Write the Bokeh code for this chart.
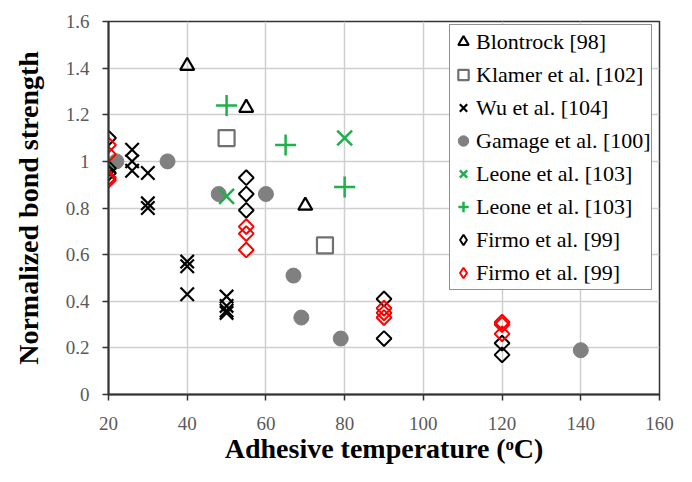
import numpy as np
from bokeh.plotting import figure
from bokeh.models import FixedTicker, Legend, LegendItem
from bokeh.embed import file_html
from bokeh.resources import INLINE

# ---- data ----
blontrock_x = [40, 55, 70]
blontrock_y = [1.41, 1.23, 0.81]

klamer_x = [50, 75]
klamer_y = [1.10, 0.64]

wu_x = [20, 20, 26, 26, 26, 30, 30, 30, 40, 40, 40, 50, 50, 50, 50]
wu_y = [0.98, 0.95, 1.05, 1.00, 0.96, 0.95, 0.82, 0.80, 0.57, 0.55, 0.43, 0.42, 0.38, 0.36, 0.35]

gamage_x = [22, 35, 48, 60, 67, 69, 79, 140]
gamage_y = [1.00, 1.00, 0.86, 0.86, 0.51, 0.33, 0.24, 0.19]

leone_x_x = [20, 50, 80]
leone_x_y = [1.00, 0.85, 1.10]

leone_p_x = [50, 65, 80]
leone_p_y = [1.24, 1.07, 0.89]

firmo_b_x = [20, 20, 20, 55, 55, 55, 90, 90, 120, 120]
firmo_b_y = [1.10, 0.97, 0.95, 0.93, 0.86, 0.79, 0.41, 0.24, 0.22, 0.17]

firmo_r_x = [20, 20, 20, 20, 55, 55, 55, 90, 90, 90, 120, 120, 120]
firmo_r_y = [1.07, 1.03, 0.93, 0.92, 0.72, 0.69, 0.62, 0.37, 0.35, 0.33, 0.31, 0.30, 0.26]

x_ticks = [20, 40, 60, 80, 100, 120, 140, 160]
y_ticks = [0, 0.2, 0.4, 0.6, 0.8, 1.0, 1.2, 1.4, 1.6]
y_tick_labels = ["0", "0.2", "0.4", "0.6", "0.8", "1", "1.2", "1.4", "1.6"]

FONT = "Liberation Serif"
GREEN = "#1db04b"
GRAY = "#808080"

p = figure(width=692, height=482, x_range=(20, 160), y_range=(0, 1.6),
           output_backend="svg", toolbar_location=None,
           min_border_left=108, min_border_right=33, min_border_top=21, min_border_bottom=88)
p.background_fill_color = "white"
p.border_fill_color = "white"
p.outline_line_color = "#333333"
p.outline_line_width = 1.5

for ax in (p.xaxis[0], p.yaxis[0]):
    ax.axis_line_color = "#333333"
    ax.axis_line_width = 2
    ax.major_tick_line_color = "#333333"
    ax.major_tick_line_width = 1.5
    ax.major_tick_out = 6
    ax.major_tick_in = 0
    ax.minor_tick_line_color = None
    ax.major_label_text_font = FONT
    ax.major_label_text_font_size = "19px"
    ax.major_label_text_color = "#595959"
    ax.axis_label_text_font = FONT
    ax.axis_label_text_font_style = "bold"
    ax.axis_label_text_font_size = "28px"
    ax.axis_label_text_color = "black"

p.xaxis.ticker = FixedTicker(ticks=x_ticks)
p.yaxis.ticker = FixedTicker(ticks=y_ticks)
p.yaxis.major_label_overrides = {t: l for t, l in zip(y_ticks, y_tick_labels)}
p.xaxis.major_label_standoff = 16
p.yaxis.major_label_standoff = 13
p.xaxis.axis_label = "Adhesive temperature (\u1d52C)"
p.yaxis.axis_label = "Normalized bond strength"
p.xaxis.axis_label_standoff = 0
p.yaxis.axis_label_standoff = 19

p.xgrid.ticker = FixedTicker(ticks=x_ticks)
p.ygrid.ticker = FixedTicker(ticks=y_ticks)
p.grid.grid_line_color = "#cfcfcf"
p.grid.grid_line_width = 1.5

r1 = p.scatter(blontrock_x, blontrock_y, marker="triangle", size=14, fill_color=None,
               line_color="black", line_width=2.2)
r2 = p.scatter(klamer_x, klamer_y, marker="square", size=16, fill_color=None,
               line_color="#707070", line_width=2.2)
r3 = p.scatter(wu_x, wu_y, marker="x", size=19, line_color="black", line_width=2.2)
r4 = p.scatter(gamage_x, gamage_y, marker="circle", size=15, fill_color=GRAY,
               line_color=GRAY, line_width=1)
r5 = p.scatter(leone_x_x, leone_x_y, marker="x", size=21, line_color=GREEN, line_width=2.5)
r6 = p.scatter(leone_p_x, leone_p_y, marker="cross", size=21, line_color=GREEN, line_width=2.5)
r7 = p.scatter(firmo_b_x, firmo_b_y, marker="square", angle=np.pi / 4, size=10.5,
               fill_color=None, line_color="black", line_width=2)
r8 = p.scatter(firmo_r_x, firmo_r_y, marker="square", angle=np.pi / 4, size=10.5,
               fill_color=None, line_color="red", line_width=2)

# hidden legend-only renderers so the legend shows diamonds
l7 = p.scatter(firmo_b_x[:1], firmo_b_y[:1], marker="diamond", size=14, fill_color=None,
               line_color="black", line_width=2, visible=False)
l8 = p.scatter(firmo_r_x[:1], firmo_r_y[:1], marker="diamond", size=14, fill_color=None,
               line_color="red", line_width=2, visible=False)

labels = ["Blontrock [98]", "Klamer et al. [102]", "Wu et al. [104]", "Gamage et al. [100]",
          "Leone et al. [103]", "Leone et al. [103]", "Firmo et al. [99]", "Firmo et al. [99]"]
items = [LegendItem(label=l, renderers=[r]) for l, r in zip(labels, [r1, r2, r3, r4, r5, r6, l7, l8])]
legend = Legend(items=items, location=(341, 104), label_text_font=FONT,
                label_text_font_size="22px", label_text_color="black",
                label_height=24, glyph_height=33, glyph_width=26, spacing=0,
                padding=0, margin=0, label_standoff=0,
                inactive_fill_alpha=0.0,
                border_line_color="#222222", border_line_width=1.5,
                background_fill_color="white", background_fill_alpha=1.0)
p.add_layout(legend, "center")

open("out.html", "w").write(file_html(p, INLINE))
